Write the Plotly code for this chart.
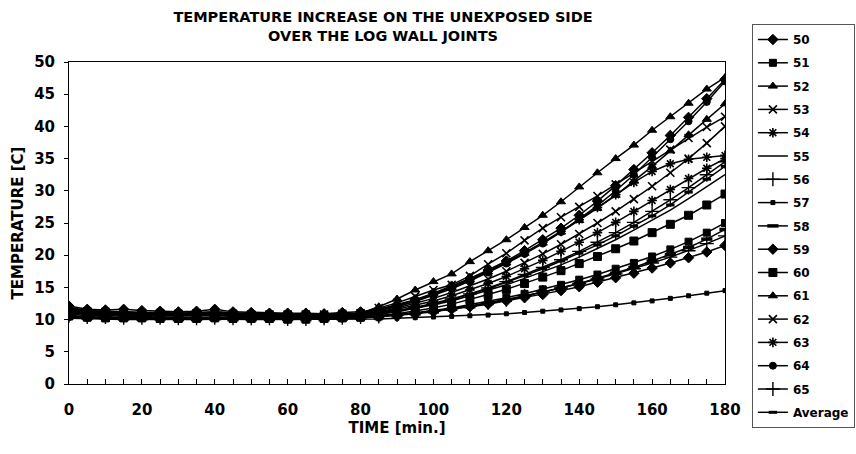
import plotly.graph_objects as go

TIME = list(range(0, 185, 5))

S50 = [12.1, 11.6, 11.5, 11.6, 11.4, 11.3, 11.2, 11.3, 11.6, 11.2, 11.1, 11.0, 11.0, 11.0, 10.9, 11.1, 11.2,
       11.6, 12.3, 13.1, 14.1, 15.2, 16.4, 17.7, 19.1, 20.7, 22.4, 24.2, 26.2, 28.4, 30.8, 33.3, 35.9, 38.6, 41.4, 44.3, 47.3]
S51 = [10.5, 10.3, 10.2, 10.2, 10.2, 10.1, 10.1, 10.1, 10.2, 10.1, 10.1, 10.1, 10.0, 10.0, 10.1, 10.2, 10.3,
       10.5, 10.7, 11.0, 11.4, 11.8, 12.3, 12.8, 13.4, 14.0, 14.7, 15.4, 16.2, 17.0, 17.9, 18.8, 19.8, 20.9, 22.1, 23.5, 25.0]
S52 = [11.5, 11.2, 11.1, 11.0, 11.0, 10.9, 10.9, 10.9, 11.0, 10.8, 10.8, 10.8, 10.7, 10.7, 10.7, 10.8, 10.9,
       11.5, 12.2, 13.0, 14.0, 15.0, 16.2, 17.4, 18.8, 20.3, 21.9, 23.6, 25.4, 27.3, 29.3, 31.5, 33.8, 36.2, 38.7, 41.1, 43.5]
S53 = [11.6, 11.3, 11.2, 11.1, 11.0, 11.0, 10.9, 11.0, 11.1, 10.9, 10.8, 10.8, 10.8, 10.8, 10.8, 10.9, 11.0,
       11.8, 12.6, 13.6, 14.6, 15.4, 16.8, 18.6, 20.3, 22.3, 24.2, 25.9, 27.5, 29.2, 31.0, 32.8, 34.6, 36.4, 38.2, 39.9, 41.5]
S54 = [11.5, 11.2, 11.1, 11.1, 11.0, 11.0, 10.9, 10.9, 11.0, 10.9, 10.8, 10.8, 10.7, 10.7, 10.7, 10.8, 10.9,
       11.4, 12.1, 12.9, 13.9, 15.0, 16.2, 17.5, 18.9, 20.4, 22.0, 23.7, 25.5, 27.4, 29.4, 31.3, 33.0, 34.2, 34.9, 35.2, 35.5]
S55 = [11.0, 10.8, 10.7, 10.7, 10.6, 10.6, 10.6, 10.6, 10.7, 10.5, 10.5, 10.5, 10.4, 10.4, 10.4, 10.5, 10.6,
       10.8, 11.2, 11.7, 12.3, 12.9, 13.7, 14.5, 15.4, 16.4, 17.4, 18.5, 19.7, 21.0, 22.4, 23.9, 25.4, 27.0, 28.8, 30.6, 32.5]
S56 = [11.2, 10.9, 10.9, 10.8, 10.8, 10.7, 10.7, 10.7, 10.8, 10.7, 10.6, 10.6, 10.6, 10.6, 10.5, 10.6, 10.7,
       11.0, 11.4, 11.9, 12.5, 13.2, 14.0, 14.9, 15.9, 17.0, 18.1, 19.3, 20.6, 22.0, 23.5, 25.1, 26.8, 28.6, 30.5, 32.5, 34.5]
S57 = [10.2, 10.1, 10.0, 10.0, 10.0, 10.0, 10.0, 10.0, 10.0, 10.0, 10.0, 10.0, 10.0, 10.0, 10.0, 10.0, 10.1,
       10.1, 10.2, 10.3, 10.4, 10.5, 10.6, 10.7, 10.9, 11.1, 11.3, 11.5, 11.7, 12.0, 12.3, 12.6, 12.9, 13.3, 13.7, 14.1, 14.5]
S58 = [10.4, 10.2, 10.2, 10.1, 10.1, 10.1, 10.0, 10.0, 10.1, 10.0, 10.0, 10.0, 10.0, 10.0, 10.0, 10.1, 10.2,
       10.4, 10.6, 10.9, 11.2, 11.6, 12.0, 12.5, 13.0, 13.6, 14.2, 14.9, 15.6, 16.4, 17.2, 18.1, 19.1, 20.1, 21.2, 22.5, 24.0]
S59 = [10.9, 10.6, 10.6, 10.5, 10.5, 10.4, 10.4, 10.4, 10.5, 10.4, 10.3, 10.3, 10.3, 10.3, 10.3, 10.4, 10.5,
       10.6, 10.8, 11.0, 11.3, 11.6, 12.0, 12.4, 12.9, 13.4, 13.9, 14.5, 15.1, 15.8, 16.5, 17.2, 18.0, 18.8, 19.6, 20.5, 21.5]
S60 = [10.6, 10.4, 10.3, 10.3, 10.3, 10.2, 10.2, 10.2, 10.3, 10.2, 10.2, 10.2, 10.1, 10.1, 10.2, 10.3, 10.4,
       10.6, 10.9, 11.3, 11.8, 12.4, 13.1, 13.9, 14.7, 15.6, 16.6, 17.6, 18.7, 19.8, 21.0, 22.2, 23.5, 24.8, 26.2, 27.8, 29.5]
S61 = [11.8, 11.3, 11.2, 11.2, 11.0, 11.1, 11.0, 11.0, 11.2, 11.0, 10.9, 10.9, 10.8, 10.8, 10.8, 10.9, 11.0,
       12.0, 13.2, 14.6, 15.9, 17.1, 19.0, 20.7, 22.4, 24.3, 26.2, 28.3, 30.6, 32.8, 35.0, 37.1, 39.4, 41.5, 43.6, 45.8, 47.6]
S62 = [11.4, 11.1, 11.0, 11.0, 10.9, 10.9, 10.8, 10.8, 10.9, 10.8, 10.7, 10.7, 10.7, 10.7, 10.6, 10.7, 10.8,
       11.2, 11.8, 12.5, 13.3, 14.2, 15.2, 16.3, 17.5, 18.8, 20.2, 21.7, 23.3, 25.0, 26.8, 28.7, 30.7, 32.8, 35.0, 37.4, 40.0]
S63 = [11.3, 11.0, 11.0, 10.9, 10.9, 10.8, 10.8, 10.8, 10.9, 10.7, 10.7, 10.7, 10.6, 10.6, 10.6, 10.7, 10.8,
       11.1, 11.6, 12.2, 12.9, 13.7, 14.6, 15.6, 16.7, 17.9, 19.2, 20.6, 22.0, 23.5, 25.1, 26.8, 28.5, 30.2, 31.9, 33.5, 35.0]
S64 = [11.9, 11.4, 11.3, 11.2, 11.1, 11.0, 11.0, 11.1, 11.2, 11.0, 10.9, 10.9, 10.8, 10.8, 10.7, 10.8, 10.9,
       11.4, 12.0, 12.8, 13.8, 14.8, 16.0, 17.3, 18.7, 20.2, 21.8, 23.6, 25.6, 27.7, 30.0, 32.5, 35.2, 38.0, 40.8, 43.8, 47.0]
S65 = [10.6, 10.4, 10.4, 10.3, 10.3, 10.3, 10.2, 10.2, 10.3, 10.2, 10.2, 10.2, 10.1, 10.1, 10.2, 10.3, 10.4,
       10.5, 10.7, 11.0, 11.3, 11.7, 12.1, 12.6, 13.1, 13.7, 14.3, 14.9, 15.6, 16.3, 17.1, 17.9, 18.8, 19.7, 20.7, 21.8, 23.0]
AVERAGE = [11.1, 10.9, 10.8, 10.8, 10.7, 10.7, 10.7, 10.7, 10.8, 10.6, 10.6, 10.6, 10.5, 10.5, 10.5, 10.6, 10.7,
           10.9, 11.3, 11.8, 12.4, 13.1, 13.9, 14.8, 15.8, 16.8, 17.9, 19.1, 20.3, 21.6, 23.0, 24.5, 26.1, 27.8, 29.8, 31.8, 33.8]

NAMES = ["50", "51", "52", "53", "54", "55", "56", "57", "58", "59", "60", "61", "62", "63", "64", "65", "Average"]
SERIES = [S50, S51, S52, S53, S54, S55, S56, S57, S58, S59, S60, S61, S62, S63, S64, S65, AVERAGE]
X_TICKS = [0, 20, 40, 60, 80, 100, 120, 140, 160, 180]

# marker styles (symbol, size, marker-line width)
STYLES = [
    ("diamond", 8, 1), ("square", 7, 1), ("triangle-up", 8, 1), ("x-thin-open", 8, 1.6),
    ("asterisk-open", 8, 1.6), (None, 0, 0), ("cross-thin-open", 10, 1.4), ("square", 4, 1),
    ("line-ew-open", 8, 3.5), ("diamond", 8, 1), ("square", 8, 1), ("triangle-up", 8, 1),
    ("x-thin-open", 8, 1.6), ("asterisk-open", 8, 1.6), ("circle", 7, 1), ("cross-thin-open", 10, 1.4),
    ("line-ew-open", 6, 3),
]

FONT = "DejaVu Sans, Arial, sans-serif"

fig = go.Figure()
for i, (name, ys) in enumerate(zip(NAMES, SERIES)):
    sym, size, lw = STYLES[i]
    if sym is None:
        fig.add_trace(go.Scatter(x=TIME, y=ys, name=name, mode="lines", legendgroup=name,
                                 line=dict(color="black", width=1.5)))
    else:
        fig.add_trace(go.Scatter(x=TIME, y=ys, name=name, mode="lines+markers", legendgroup=name,
                                 line=dict(color="black", width=1.5),
                                 marker=dict(symbol=sym, size=size, color="black",
                                             line=dict(color="black", width=lw))))

fig.update_layout(
    width=856, height=454,
    margin=dict(l=69, r=131, t=62, b=70, autoexpand=False),
    paper_bgcolor="white", plot_bgcolor="white",
    font=dict(family=FONT, size=14, color="black"),
    title=dict(text="<b>TEMPERATURE INCREASE ON THE UNEXPOSED SIDE<br>OVER THE LOG WALL JOINTS</b>",
               x=0.4475, xref="container", xanchor="center",
               y=1 - 22 / 454, yref="container", yanchor="middle",
               font=dict(family=FONT, size=14.5, color="black")),
    showlegend=True,
    legend=dict(x=1.041, y=(384 - 24) / 322, xanchor="left", yanchor="top", maxheight=440,
                bordercolor="#555555", borderwidth=1, bgcolor="white",
                font=dict(family=FONT, size=12, color="black", weight="bold"),
                itemwidth=30, tracegroupgap=4.3, traceorder="grouped"),
)

fig.update_xaxes(
    range=[0, 180], tickvals=X_TICKS, ticktext=[str(v) for v in X_TICKS],
    showgrid=False, zeroline=False,
    showline=True, linecolor="black", linewidth=1, mirror=True,
    ticks="inside", ticklen=5, tickcolor="black",
    minor=dict(dtick=5, ticks="inside", ticklen=5, tickcolor="black"),
    tickfont=dict(family=FONT, size=15, color="black", weight="bold"),
    ticklabelstandoff=12,
    title=dict(text="<b>TIME [min.]</b>", font=dict(family=FONT, size=15, color="black"), standoff=4),
)
fig.update_yaxes(
    range=[0, 50], dtick=5,
    showgrid=False, zeroline=False,
    showline=True, linecolor="black", linewidth=1, mirror=True,
    ticks="outside", ticklen=4, tickcolor="black",
    tickfont=dict(family=FONT, size=15, color="black", weight="bold"),
    ticklabelstandoff=6,
    title=dict(text="<b>TEMPERATURE [C]</b>", font=dict(family=FONT, size=15, color="black"), standoff=6),
)

fig.write_html("out.html")
